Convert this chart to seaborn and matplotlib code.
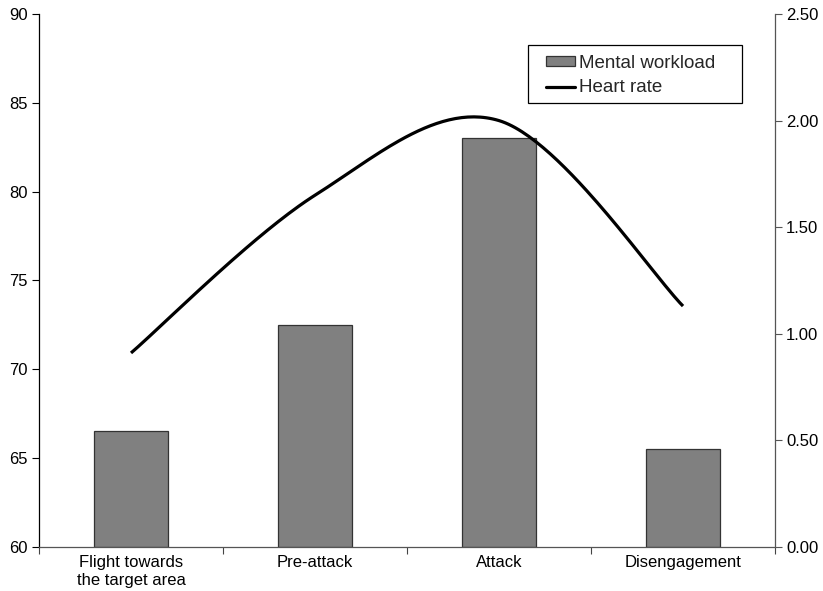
import numpy as np
import pandas as pd
import matplotlib
matplotlib.use("Agg")
import matplotlib.pyplot as plt
from matplotlib.patches import Patch, Rectangle
from matplotlib.lines import Line2D
import seaborn as sns

phases = ["Flight towards\nthe target area", "Pre-attack", "Attack", "Disengagement"]
mental_workload = [66.5, 72.5, 83.0, 65.5]
heart_rate = [0.91, 1.65, 2.00, 1.13]

left_ticks = [60, 65, 70, 75, 80, 85, 90]
right_ticks = [0.0, 0.5, 1.0, 1.5, 2.0, 2.5]

sns.set_theme(style="white")
plt.rcParams["font.family"] = ["Liberation Sans", "DejaVu Sans"]
FS = 12
LEG_FS = 13.5

fig = plt.figure(figsize=(8.23, 5.91), dpi=100)
ax = fig.add_axes([0.0474, 0.0745, 0.8943, 0.9018])

df = pd.DataFrame({"phase": phases, "workload": mental_workload})
sns.barplot(data=df, x="phase", y="workload", ax=ax, color="#808080",
            width=0.4, edgecolor="#333333", linewidth=0.9, saturation=1)
# bars rise from the bottom of the axis
for p in ax.patches:
    h = p.get_height()
    p.set_y(60)
    p.set_height(h - 60)

ax.set_ylim(60, 90)
ax.set_xlim(-0.5, 3.5)
ax.set_yticks(left_ticks)
ax.set_yticklabels([str(t) for t in left_ticks], fontsize=FS, color="black")
ax.set_xlabel("")
ax.set_ylabel("")

# category boundaries carry the tick marks, names sit between them
ax.set_xticks([-0.5, 0.5, 1.5, 2.5, 3.5])
ax.set_xticklabels([])
ax.set_xticks(range(len(phases)), minor=True)
ax.set_xticklabels(phases, minor=True, fontsize=FS, color="black")
ax.tick_params(axis="x", which="major", direction="out", length=5, width=0.8,
               color="#444444", bottom=True)
ax.tick_params(axis="x", which="minor", length=0, pad=6)
ax.tick_params(axis="y", direction="out", length=5, width=0.8, color="black",
               left=True, pad=3)

for side in ["top", "right"]:
    ax.spines[side].set_visible(False)
ax.spines["left"].set_color("black")
ax.spines["left"].set_linewidth(0.9)
ax.spines["bottom"].set_color("#555555")
ax.spines["bottom"].set_linewidth(0.9)

# heart rate on the secondary axis as a smoothed curve (Catmull-Rom)
ax2 = ax.twinx()
pts = np.column_stack([np.arange(len(heart_rate), dtype=float), heart_rate])
ext = np.vstack([pts[0], pts, pts[-1]])
curve = []
t = np.linspace(0, 1, 60)[:, None]
for i in range(len(pts) - 1):
    p0, p1, p2, p3 = ext[i], ext[i + 1], ext[i + 2], ext[i + 3]
    b1 = p1 + (p2 - p0) / 6
    b2 = p2 - (p3 - p1) / 6
    seg = ((1 - t) ** 3) * p1 + 3 * ((1 - t) ** 2) * t * b1 + 3 * (1 - t) * t ** 2 * b2 + t ** 3 * p2
    curve.append(seg if i == 0 else seg[1:])
curve = np.vstack(curve)
ax2.plot(curve[:, 0], curve[:, 1], color="black", lw=2.3, solid_capstyle="butt")

ax2.set_ylim(0, 2.5)
ax2.set_yticks(right_ticks)
ax2.set_yticklabels([f"{v:.2f}" for v in right_ticks], fontsize=FS, color="black")
ax2.tick_params(axis="y", direction="out", length=5, width=0.8, color="#555555",
                right=True, pad=3)
ax2.grid(False)
ax.grid(False)
for side in ["top", "left", "bottom"]:
    ax2.spines[side].set_visible(False)
ax2.spines["right"].set_color("#555555")
ax2.spines["right"].set_linewidth(0.9)

# legend box and entries
ax2.add_patch(Rectangle((0.6644, 0.833), 0.2908, 0.1088, transform=ax2.transAxes,
                        facecolor="white", edgecolor="black", linewidth=0.9,
                        zorder=5, clip_on=False))
handles = [Patch(facecolor="#808080", edgecolor="#333333", linewidth=0.9),
           Line2D([0], [0], color="black", lw=2.3)]
leg = ax2.legend(handles, ["Mental workload", "Heart rate"], loc="center left",
                 bbox_to_anchor=(0.689, 0.8846), borderaxespad=0, borderpad=0,
                 fontsize=LEG_FS, frameon=False,
                 handlelength=1.55, handleheight=0.42, handletextpad=0.2,
                 labelspacing=0.42)
leg.set_zorder(6)

fig.savefig("out.png", dpi=100)
